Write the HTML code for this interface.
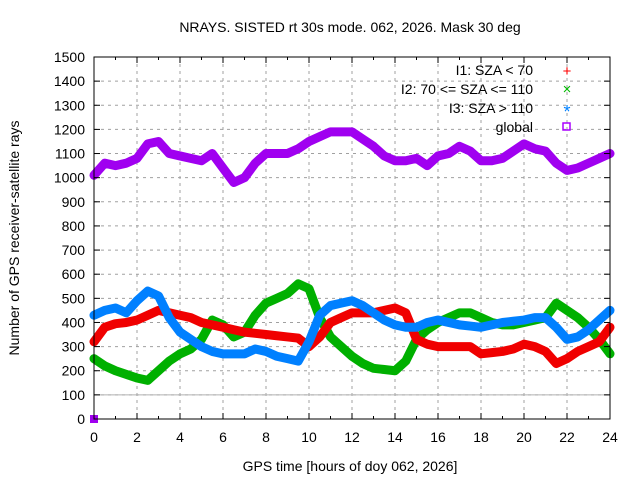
<!DOCTYPE html>
<html><head><meta charset="utf-8"><style>
body{margin:0;background:#fff}
svg{display:block;font-family:"Liberation Sans",sans-serif;font-size:14px}
</style></head><body>
<svg id="chart" width="640" height="480" viewBox="0 0 640 480">
<rect width="640" height="480" fill="#fff"/>
<text x="350" y="32" text-anchor="middle">NRAYS. SISTED rt 30s mode. 062, 2026. Mask 30 deg</text>
<text transform="translate(19,238) rotate(-90)" text-anchor="middle">Number of GPS receiver-satellite rays</text>
<text x="350" y="471" text-anchor="middle">GPS time [hours of doy 062, 2026]</text>
<g id="grid"></g>
<g id="series"></g>
<rect x="94" y="57" width="516" height="362" fill="none" stroke="#000" stroke-width="1"/>
<g id="ticks"></g>
<g>
<text x="533" y="75" text-anchor="end">I1: SZA &lt; 70</text>
<text x="533" y="94" text-anchor="end">I2: 70 &lt;= SZA &lt;= 110</text>
<text x="533" y="113" text-anchor="end">I3: SZA &gt; 110</text>
<text x="533" y="132" text-anchor="end">global</text>
<text x="567" y="76" fill="#f00" text-anchor="middle" font-size="15">+</text>
<text x="567" y="94" fill="#0b0" text-anchor="middle" font-size="15">×</text>
<text x="567" y="118" fill="#0080ff" text-anchor="middle" font-size="18">*</text>
<rect x="563" y="123" width="7" height="7" fill="none" stroke="#a0f" stroke-width="1.5"/>
</g>
</svg>
<script>
const hours=[0,0.5,1,1.5,2,2.5,3,3.5,4,4.5,5,5.5,6,6.5,7,7.5,8,8.5,9,9.5,10,10.5,11,11.5,12,12.5,13,13.5,14,14.5,15,15.5,16,16.5,17,17.5,18,18.5,19,19.5,20,20.5,21,21.5,22,22.5,23,23.5,24];
const i1=[320,380,395,400,410,430,450,440,430,420,400,390,380,370,360,355,350,345,340,335,300,340,400,420,440,440,440,450,460,440,330,310,300,300,300,300,270,275,280,290,310,300,280,230,250,280,300,320,380];
const i2=[250,220,200,185,170,160,200,240,270,290,330,410,390,340,360,430,480,500,520,560,540,420,340,300,260,230,210,205,200,240,330,370,400,420,440,440,420,400,390,390,400,410,420,480,450,420,380,330,270];
const i3=[430,450,460,440,490,530,510,420,360,330,300,280,270,270,270,290,280,260,250,240,320,430,470,480,490,470,440,410,390,380,380,400,410,400,390,385,380,390,400,405,410,420,420,380,330,340,370,410,450];
const glob=[1010,1060,1050,1060,1080,1140,1150,1100,1090,1080,1070,1100,1040,980,1000,1060,1100,1100,1100,1120,1150,1170,1190,1190,1190,1160,1130,1090,1070,1070,1080,1050,1090,1100,1130,1110,1070,1070,1080,1110,1140,1120,1110,1060,1030,1040,1060,1080,1100];
const xTicks=[0,2,4,6,8,10,12,14,16,18,20,22,24];
const yTicks=[0,100,200,300,400,500,600,700,800,900,1000,1100,1200,1300,1400,1500];
const X=h=>94+h*(516/24), Y=v=>419-v*(362/1500);
const NS="http://www.w3.org/2000/svg";
function mk(tag,attrs,parent){const e=document.createElementNS(NS,tag);for(const k in attrs)e.setAttribute(k,attrs[k]);parent.appendChild(e);return e;}
const grid=document.getElementById('grid'),ticks=document.getElementById('ticks'),ser=document.getElementById('series');
yTicks.forEach(v=>{
  if(v>0&&v<1500){const g=mk('line',{x1:94,x2:610,y1:Y(v),y2:Y(v),stroke:'#a0a0a0','stroke-dasharray':'3,4'},grid);
  
  }
  mk('line',{x1:94,x2:100,y1:Y(v),y2:Y(v),stroke:'#000'},ticks);
  mk('line',{x1:604,x2:610,y1:Y(v),y2:Y(v),stroke:'#000'},ticks);
  const t=mk('text',{x:85,y:Y(v)+5,'text-anchor':'end'},ticks);t.textContent=v;
  
  
});
xTicks.forEach(h=>{
  if(h>0&&h<24){const g=mk('line',{x1:X(h),x2:X(h),y1:57,y2:419,stroke:'#a0a0a0','stroke-dasharray':'3,4'},grid);
  
  }
  mk('line',{x1:X(h),x2:X(h),y1:419,y2:413,stroke:'#000'},ticks);
  mk('line',{x1:X(h),x2:X(h),y1:57,y2:63,stroke:'#000'},ticks);
  const t=mk('text',{x:X(h),y:442,'text-anchor':'middle'},ticks);t.textContent=h;
  
  
});
for(let h=1;h<24;h+=2){mk('line',{x1:X(h),x2:X(h),y1:419,y2:416,stroke:'#000'},ticks);mk('line',{x1:X(h),x2:X(h),y1:57,y2:60,stroke:'#000'},ticks);}
const ref=mk('line',{x1:94,x2:610,y1:Y(100),y2:Y(100),stroke:'#b0b0b0'},grid);


function band(vals,color,name,w){
  const pts=hours.map((h,i)=>X(h)+','+Y(vals[i])).join(' ');
  const p=mk('polyline',{points:pts,fill:'none',stroke:color,'stroke-width':w,'stroke-linejoin':'round','stroke-linecap':'round'},ser);
  
  
}
band(glob,'#a000f0','series-global',9);
band(i2,'#00b000','series-i2',9);
band(i1,'#f00000','series-i1',9);
band(i3,'#0080ff','series-i3',9);
const z=mk('rect',{x:X(0)-4,y:Y(0)-4,width:8,height:8,fill:'#a000f0'},ser);


</script>
</body></html>
